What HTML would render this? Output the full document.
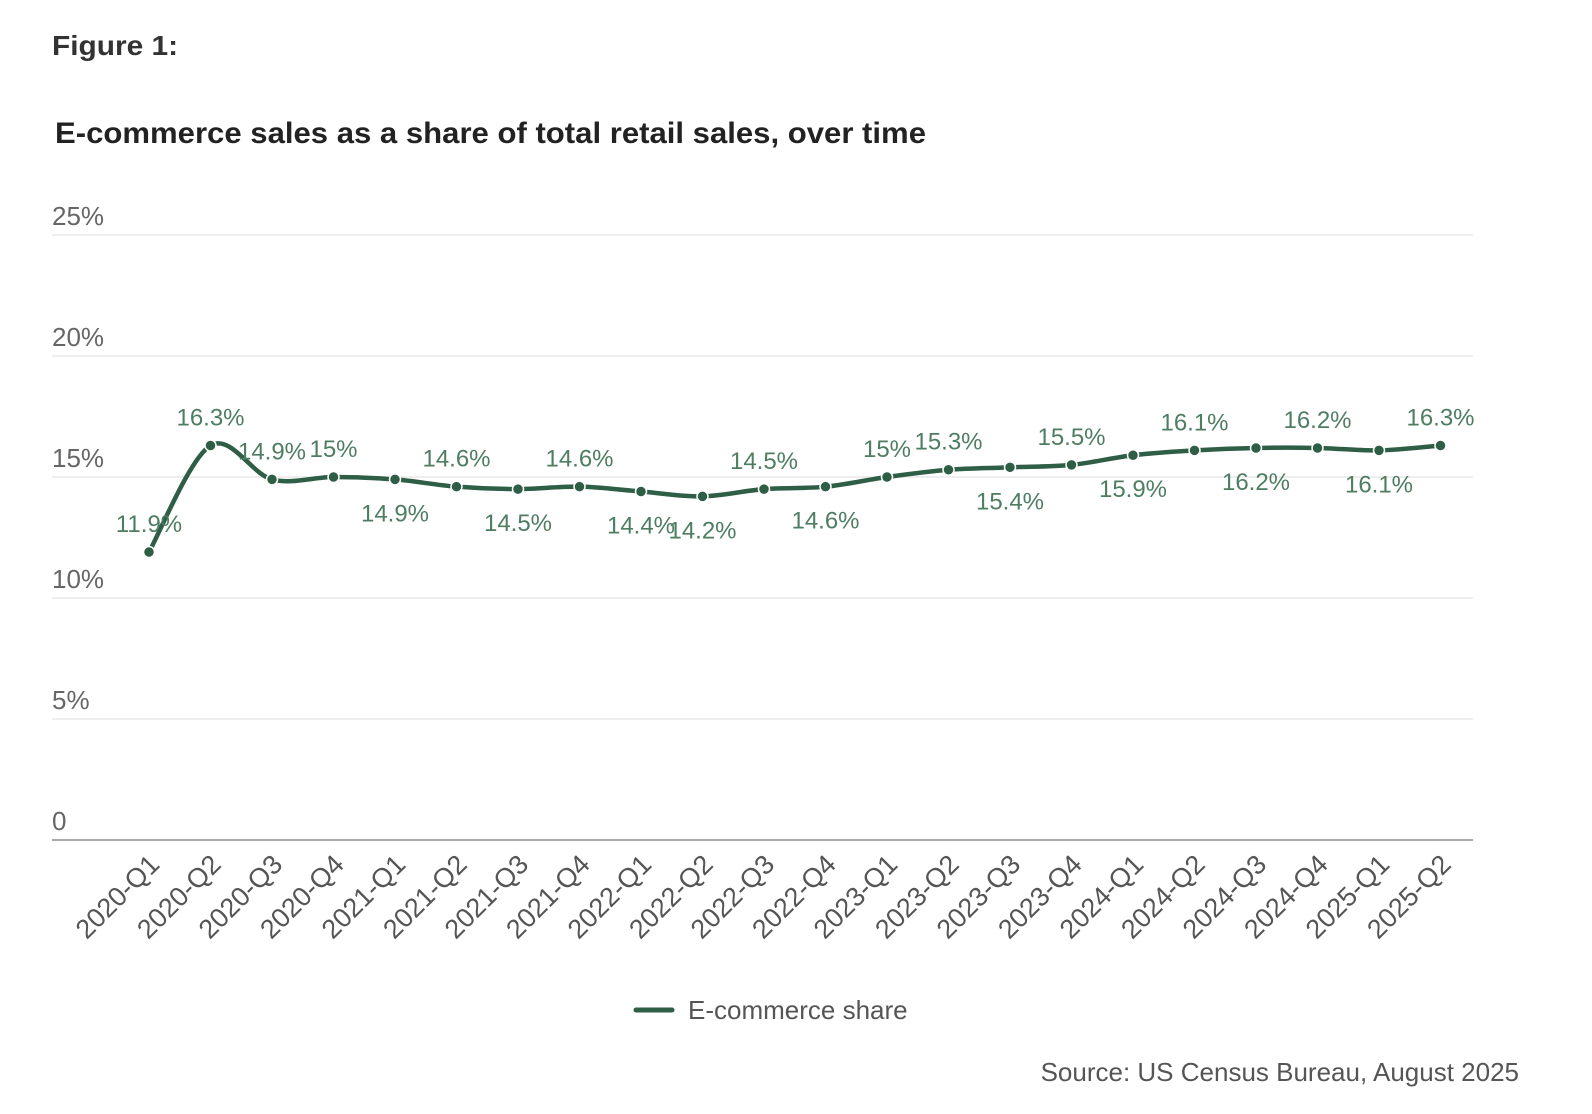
<!DOCTYPE html>
<html><head><meta charset="utf-8"><style>
body{margin:0;background:#fff;}
svg{display:block;font-family:"Liberation Sans",sans-serif;}
</style></head><body>
<svg id="chart" width="1592" height="1114" viewBox="0 0 1592 1114">
<text x="52" y="55" font-size="28" font-weight="bold" fill="#333" textLength="126" lengthAdjust="spacingAndGlyphs">Figure 1:</text>
<text x="55" y="143" font-size="30" font-weight="bold" fill="#222" textLength="871" lengthAdjust="spacingAndGlyphs">E-commerce sales as a share of total retail sales, over time</text>
<g id="grid"></g><g id="xlabels"></g><g id="series"></g>
<g>
<line x1="636" y1="1010" x2="672" y2="1010" stroke="#2f5e47" stroke-width="5" stroke-linecap="round"/>
<text x="688" y="1019" font-size="26" fill="#555">E-commerce share</text>
</g>
<text x="1519" y="1081" font-size="26" fill="#555" text-anchor="end">Source: US Census Bureau, August 2025</text>
</svg>
<script>
const categories=["2020-Q1","2020-Q2","2020-Q3","2020-Q4","2021-Q1","2021-Q2","2021-Q3","2021-Q4","2022-Q1","2022-Q2","2022-Q3","2022-Q4","2023-Q1","2023-Q2","2023-Q3","2023-Q4","2024-Q1","2024-Q2","2024-Q3","2024-Q4","2025-Q1","2025-Q2"];
const values=[11.9,16.3,14.9,15,14.9,14.6,14.5,14.6,14.4,14.2,14.5,14.6,15,15.3,15.4,15.5,15.9,16.1,16.2,16.2,16.1,16.3];
const labelText=["11.9%","16.3%","14.9%","15%","14.9%","14.6%","14.5%","14.6%","14.4%","14.2%","14.5%","14.6%","15%","15.3%","15.4%","15.5%","15.9%","16.1%","16.2%","16.2%","16.1%","16.3%"];
const labelSide=["a","a","a","a","b","a","b","a","b","b","a","b","a","a","b","a","b","a","b","a","b","a"];
const yTicks=[0,5,10,15,20,25];
const yTickLabels=["0","5%","10%","15%","20%","25%"];
const NS="http://www.w3.org/2000/svg";
const x0=149,step=61.5,yBase=840,perUnit=24.2;
const xs=i=>x0+i*step, ys=v=>yBase-v*perUnit;
function mk(tag,attrs,parent){const e=document.createElementNS(NS,tag);for(const k in attrs)e.setAttribute(k,attrs[k]);parent.appendChild(e);return e;}
const grid=document.getElementById('grid');
yTicks.forEach((t,i)=>{
  const l=mk('line',{x1:52,x2:1473,y1:ys(t),y2:ys(t),stroke:t===0?'#aaa':'#eee','stroke-width':2},grid);
  
  
  const tx=mk('text',{x:52,y:ys(t)-10,'font-size':26,fill:'#666'},grid);
  tx.textContent=yTickLabels[i];
  
  
});
const xl=document.getElementById('xlabels');
categories.forEach((c,i)=>{
  const x=xs(i)+12,y=866;
  const t=mk('text',{x:x,y:y,'font-size':27,fill:'#555','text-anchor':'end',transform:`rotate(-45 ${x} ${y})`},xl);
  t.textContent=c;
  
  
});
const s=document.getElementById('series');
const pts=values.map((v,i)=>[xs(i),ys(v)]);
let d=`M${pts[0][0]},${pts[0][1]}`;
for(let i=0;i<pts.length-1;i++){
  const p0=pts[i-1]||pts[i],p1=pts[i],p2=pts[i+1],p3=pts[i+2]||p2;
  const c1=[p1[0]+(p2[0]-p0[0])/6,p1[1]+(p2[1]-p0[1])/6],c2=[p2[0]-(p3[0]-p1[0])/6,p2[1]-(p3[1]-p1[1])/6];
  d+=` C${c1[0]},${c1[1]} ${c2[0]},${c2[1]} ${p2[0]},${p2[1]}`;
}
const path=mk('path',{d:d,fill:'none',stroke:'#2f5e47','stroke-width':4.5},s);


pts.forEach((p,i)=>{
  const c=mk('circle',{cx:p[0],cy:p[1],r:5.5,fill:'#2f5e47',stroke:'#fff','stroke-width':1.5},s);
  
  
  const above=labelSide[i]==='a';
  const t=mk('text',{x:p[0],y:above?p[1]-20:p[1]+42,'font-size':24,fill:'#4e7d62','text-anchor':'middle'},s);
  t.textContent=labelText[i];
  
  
});
</script>
</body></html>
